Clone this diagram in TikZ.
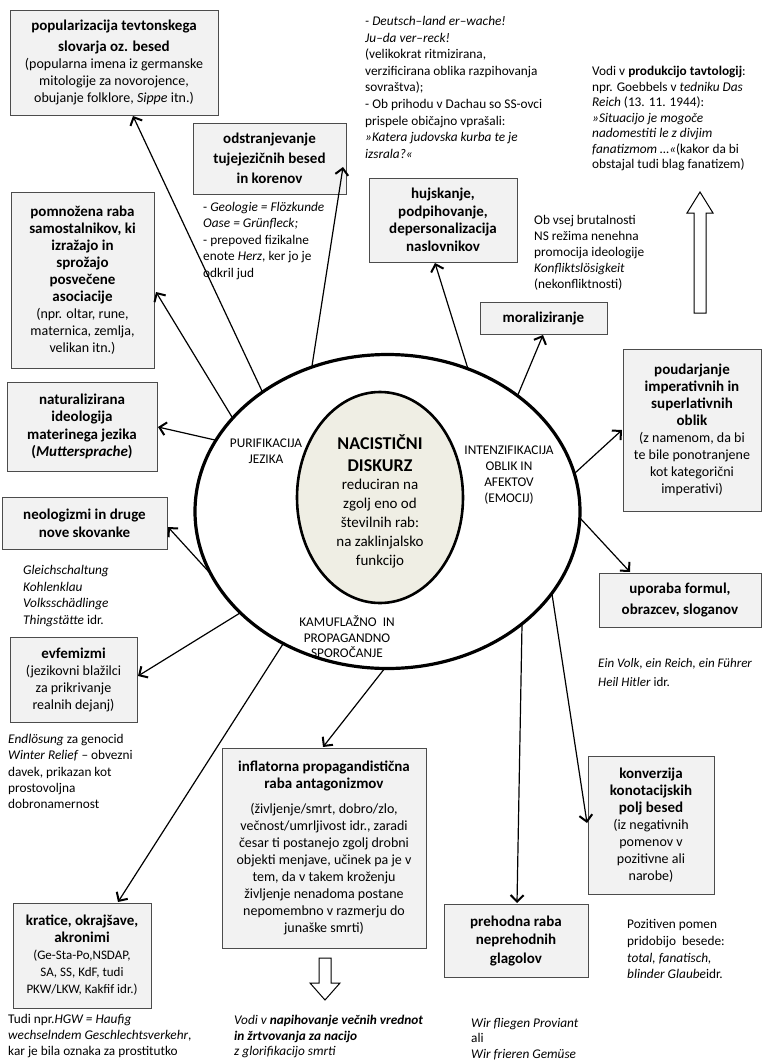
\documentclass[tikz,border=0pt]{standalone}
\usepackage{fontspec}
\setmainfont{Carlito}
\usetikzlibrary{arrows.meta,shapes.geometric}
\newcommand\bxt[1]{{\fontsize{15}{17}\selectfont\bfseries #1}}
\begin{document}
\begin{tikzpicture}[x=1pt,y=-1pt,
  box/.style={draw=black!70, fill=black!5, line width=0.9pt, align=center, inner sep=1pt,
    font=\fontsize{14}{17}\selectfont},
  note/.style={align=left, anchor=north west, inner sep=0pt, font=\fontsize{13.3}{16.5}\selectfont},
  elab/.style={align=center, inner sep=0pt, font=\fontsize{13.3}{16}\selectfont},
  arr/.style={line width=1.2pt, -{Straight Barb[length=6.5pt,width=13pt,line width=2pt]}},
  hollow/.style={draw=black, line width=1pt, fill=white}]
\useasboundingbox (0,0) rectangle (762,1061);

% ellipses
\node[draw, ellipse, line width=3.2pt, minimum width=385pt, minimum height=314pt] (outer) at (387.5,511.5) {};
\node[draw, ellipse, line width=2.6pt, fill={rgb,255:red,239;green,238;blue,228}, minimum width=166pt, minimum height=211pt] (inner) at (380,497.5) {};
\node[align=center, inner sep=0pt, font=\fontsize{15}{18.8}\selectfont] (ctext) at (380,501)
 {{\fontsize{18}{20}\selectfont\bfseries NACISTIČNI}\\[3pt]{\fontsize{18}{20}\selectfont\bfseries DISKURZ}\\reduciran na\\zgolj eno od\\številnih rab:\\na zaklinjalsko\\funkcijo};
\node[elab] (lpur) at (266,451) {PURIFIKACIJA\\JEZIKA};
\node[elab] (lint) at (509,475) {INTENZIFIKACIJA\\OBLIK IN\\AFEKTOV\\(EMOCIJ)};
\node[elab, font=\fontsize{13.3}{15.5}\selectfont] (lkam) at (347,637) {KAMUFLAŽNO\ \ IN\\PROPAGANDNO\\SPOROČANJE};

% boxes
\node[box, minimum width=208pt, minimum height=105pt] (pop) at (114,62.5)
 {\bxt{popularizacija tevtonskega}\\[4pt]\bxt{slovarja oz. besed}\\(popularna imena iz germanske\\mitologije za novorojence,\\obujanje folklore, \textit{Sippe} itn.)};
\node[box, minimum width=153pt, minimum height=71pt, font=\fontsize{14}{20}\selectfont] (odst) at (269.5,158.5)
 {\bxt{odstranjevanje}\\\bxt{tujejezičnih besed}\\\bxt{in korenov}};
\node[box, minimum width=143pt, minimum height=176pt] (pomn) at (82.5,280)
 {\bxt{pomnožena raba}\\\bxt{samostalnikov, ki}\\\bxt{izražajo in}\\\bxt{sprožajo}\\\bxt{posvečene}\\\bxt{asociacije}\\(npr. oltar, rune,\\maternica, zemlja,\\velikan itn.)};
\node[box, minimum width=148pt, minimum height=84pt, font=\fontsize{14}{17.5}\selectfont] (hujs) at (443,220)
 {\bxt{hujskanje,}\\\bxt{podpihovanje,}\\\bxt{depersonalizacija}\\\bxt{naslovnikov}};
\node[box, minimum width=127pt, minimum height=32pt] (moral) at (543.5,318) {\bxt{moraliziranje}};
\node[box, minimum width=150pt, minimum height=89pt, font=\fontsize{14}{17.5}\selectfont] (natur) at (82,426.5)
 {\bxt{naturalizirana}\\\bxt{ideologija}\\\bxt{materinega jezika}\\\bxt{(\textit{Muttersprache})}};
\node[box, minimum width=165pt, minimum height=52pt, font=\fontsize{14}{18}\selectfont] (neol) at (84.5,523)
 {\bxt{neologizmi in druge}\\\bxt{nove skovanke}};
\node[box, minimum width=138pt, minimum height=162pt] (poud) at (692,430)
 {\bxt{poudarjanje}\\\bxt{imperativnih in}\\\bxt{superlativnih}\\\bxt{oblik}\\(z namenom, da bi\\te bile ponotranjene\\kot kategorični\\imperativi)};
\node[box, minimum width=162pt, minimum height=54pt, font=\fontsize{14}{21}\selectfont] (upor) at (680,600)
 {\bxt{uporaba formul,}\\\bxt{obrazcev, sloganov}};
\node[box, minimum width=127pt, minimum height=85pt] (evf) at (73.5,679.5)
 {\bxt{evfemizmi}\\(jezikovni blažilci\\za prikrivanje\\realnih dejanj)};
\node[box, minimum width=204pt, minimum height=200pt] (infl) at (324,848)
 {\bxt{inflatorna propagandistična}\\\bxt{raba antagonizmov}\\[8pt](življenje/smrt, dobro/zlo,\\večnost/umrljivost idr., zaradi\\česar ti postanejo zgolj drobni\\objekti menjave, učinek pa je v\\tem, da v takem kroženju\\življenje nenadoma postane\\nepomembno v razmerju do\\junaške smrti)};
\node[box, minimum width=138pt, minimum height=105pt, font=\fontsize{13}{17}\selectfont] (krat) at (82,955.5)
 {\bxt{kratice, okrajšave,}\\\bxt{akronimi}\\(Ge-Sta-Po,NSDAP,\\SA, SS, KdF, tudi\\PKW/LKW, Kakfif idr.)};
\node[box, minimum width=144pt, minimum height=73pt, font=\fontsize{14}{18.5}\selectfont] (preh) at (516,940.5)
 {\bxt{prehodna raba}\\\bxt{neprehodnih}\\\bxt{glagolov}};
\node[box, minimum width=126pt, minimum height=138pt] (konv) at (651,825)
 {\bxt{konverzija}\\\bxt{konotacijskih}\\\bxt{polj besed}\\(iz negativnih\\pomenov v\\pozitivne ali\\narobe)};

% notes
\node[note, font=\fontsize{13.3}{16.6}\selectfont] (ndeu) at (365,16)
 {\textit{- Deutsch–land er–wache!}\\\textit{Ju–da ver–reck!}\\(velikokrat ritmizirana,\\verzificirana oblika razpihovanja\\sovraštva);\\- Ob prihodu v Dachau so SS-ovci\\prispele običajno vprašali:\\\textit{»Katera judovska kurba te je}\\\textit{izsrala?«}};
\node[note] (ngeo) at (203,202)
 {- \textit{Geologie = Flözkunde}\\\textit{Oase = Grünfleck;}\\- prepoved fizikalne\\enote \textit{Herz}, ker jo je\\odkril jud};
\node[note, font=\fontsize{13.3}{15.5}\selectfont] (nvodi) at (592,66)
 {Vodi v \textbf{produkcijo tavtologij}:\\npr. Goebbels v \textit{tedniku Das}\\\textit{Reich} (13. 11. 1944):\\\textit{»Situacijo je mogoče}\\\textit{nadomestiti le z divjim}\\\textit{fanatizmom …«}(kakor da bi\\obstajal tudi blag fanatizem)};
\node[note, font=\fontsize{13.3}{16}\selectfont] (nob) at (534,215)
 {Ob vsej brutalnosti\\NS režima nenehna\\promocija ideologije\\\textit{Konfliktslösigkeit}\\(nekonfliktnosti)};
\node[note, font=\fontsize{13.3}{16.7}\selectfont] (ngle) at (23,565)
 {\textit{Gleichschaltung}\\\textit{Kohlenklau}\\\textit{Volksschädlinge}\\\textit{Thingstätte} idr.};
\node[note, font=\fontsize{13.3}{16.3}\selectfont] (nend) at (8,734)
 {\textit{Endlösung} za genocid\\\textit{Winter Relief} – obvezni\\davek, prikazan kot\\prostovoljna\\dobronamernost};
\node[note, font=\fontsize{13}{19}\selectfont] (nein) at (598,658)
 {\textit{Ein Volk, ein Reich, ein Führer}\\\textit{Heil Hitler} idr.};
\node[note, font=\fontsize{13.3}{16.8}\selectfont] (npoz) at (627,919)
 {Pozitiven pomen\\pridobijo\ \ besede:\\\textit{total, fanatisch,}\\\textit{blinder Glaube}idr.};
\node[note, font=\fontsize{13.3}{15.5}\selectfont] (nwir) at (471,1018)
 {\textit{Wir fliegen Proviant}\\ali\\\textit{Wir frieren Gemüse}};
\node[note, font=\fontsize{13.3}{15.5}\selectfont] (nnap) at (234,1015)
 {\textit{Vodi v \textbf{napihovanje večnih vrednot}}\\\textit{\textbf{in žrtvovanja za nacijo}}\\\textit{z glorifikacijo smrti}};
\node[note, font=\fontsize{13.3}{15.8}\selectfont] (ntud) at (8,1014)
 {Tudi npr.\textit{HGW = Haufig}\\\textit{wechselndem Geschlechtsverkehr},\\kar je bila oznaka za prostitutko};

% arrow endpoints
\coordinate (s1) at (262,391);  \coordinate (t1) at (133,116);
\coordinate (s2) at (312,366);  \coordinate (t2) at (343,167);
\coordinate (s3) at (232,417);  \coordinate (t3) at (156,292);
\coordinate (s4) at (215,440);  \coordinate (t4) at (158,427);
\coordinate (s5) at (209,572);  \coordinate (t5) at (168,527);
\coordinate (s6) at (240,613);  \coordinate (t6) at (138,676);
\coordinate (s7) at (283,644);  \coordinate (t7) at (118,902);
\coordinate (s8) at (385,668);  \coordinate (t8) at (323,747);
\coordinate (s9) at (522,625);  \coordinate (t9) at (517,903);
\coordinate (s10) at (552,594); \coordinate (t10) at (587,823);
\coordinate (s11) at (580,518); \coordinate (t11) at (630,572);
\coordinate (s12) at (575,473); \coordinate (t12) at (622,430);
\coordinate (s13) at (517,397); \coordinate (t13) at (543,335);
\coordinate (s14) at (468,369); \coordinate (t14) at (435,263);
\foreach \i in {1,...,14} {\draw[arr] (s\i) -- (t\i);}

% hollow block arrows
\draw[hollow] (694,313) -- (694,213) -- (687,213) -- (700,192) -- (713,213) -- (706,213) -- (706,313) -- cycle;
\draw[hollow] (319,958) -- (319,983) -- (310,983) -- (325,1000) -- (340,983) -- (331,983) -- (331,958) -- cycle;
\end{tikzpicture}
\end{document}
